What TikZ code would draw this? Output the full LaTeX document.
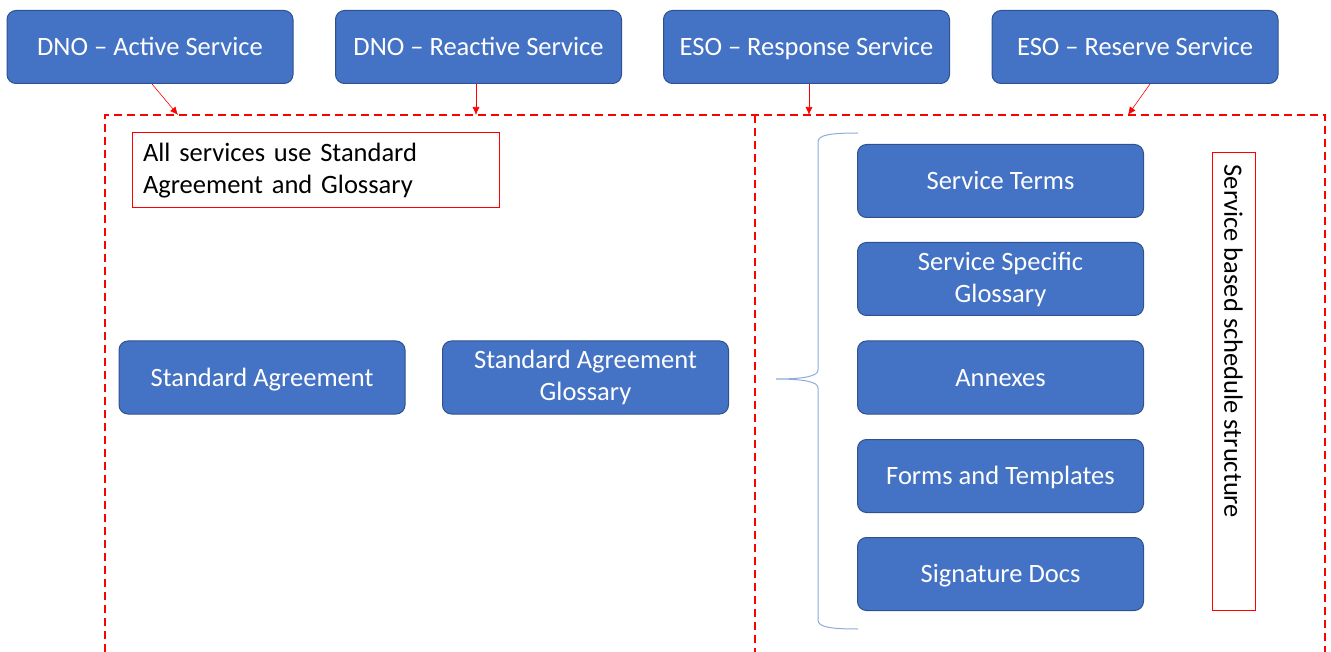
\documentclass[tikz,border=0pt]{standalone}
\usepackage{fontspec}
\setmainfont{Carlito}
\usetikzlibrary{arrows.meta,decorations.pathreplacing}
\definecolor{boxblue}{HTML}{4472C4}
\definecolor{boxedge}{HTML}{2F528F}
\definecolor{bracecol}{HTML}{8FAADC}
\tikzset{
  bluebox/.style={draw=boxedge, line width=1pt, fill=boxblue, rounded corners=9pt, text=white,
    minimum width=286pt, minimum height=73pt, inner sep=2pt, align=center,
    font=\fontsize{26.5}{32}\selectfont},
  oneline/.style={bluebox, text height=17pt, text depth=0pt},
  redbox/.style={draw=red, line width=1pt, inner sep=0pt},
  dashline/.style={draw=red, line width=2pt, dash pattern=on 8pt off 5pt},
  redarrow/.style={draw=red, line width=0.6pt, -{Latex[length=8pt,width=7pt]}}
}
\begin{document}
\begin{tikzpicture}[x=1pt,y=-1pt]
\useasboundingbox (0,0) rectangle (1331,652);
% top service boxes
\node[oneline] (dnoa) at (150,47) {DNO -- Active Service};
\node[oneline] (dnor) at (478.5,47) {DNO -- Reactive Service};
\node[oneline] (esor) at (806.5,47) {ESO -- Response Service};
\node[oneline] (esov) at (1135,47) {ESO -- Reserve Service};
% dashed frame
\coordinate (tl) at (105,115);
\coordinate (tm) at (755,115);
\coordinate (tr) at (1325,115);
\coordinate (bl) at (105,652);
\coordinate (bm) at (755,652);
\coordinate (br) at (1325,652);
\draw[dashline] (bl) -- (tl) -- (tr) -- (br);
\draw[dashline] (tm) -- (bm);
% arrows
\coordinate (a1) at (178,115);
\coordinate (a2) at (476,115);
\coordinate (a3) at (809,115);
\coordinate (a4) at (1128,115);
\draw[redarrow] (152,84) -- (a1);
\draw[redarrow] (476,84) -- (a2);
\draw[redarrow] (809,84) -- (a3);
\draw[redarrow] (1150,84) -- (a4);
% note box
\node[redbox, minimum width=367pt, minimum height=75pt, text width=345pt, align=left,
  font=\fontsize{26.5}{32}\selectfont] (note) at (315.5,170.5) {All services use Standard\\Agreement and Glossary};
% standard agreement
\node[oneline] (sa) at (262,377.5) {Standard Agreement};
\node[bluebox] (sag) at (585.5,377.5) {Standard Agreement\\Glossary};
% schedule items
\node[oneline] (st) at (1000.5,181) {Service Terms};
\node[bluebox] (ssg) at (1000.5,279) {Service Specific\\Glossary};
\node[oneline] (ann) at (1000.5,377.5) {Annexes};
\node[oneline] (fat) at (1000.5,476) {Forms and Templates};
\node[oneline] (sig) at (1000.5,574) {Signature Docs};
% brace
\coordinate (btop) at (858,133);
\coordinate (bbot) at (858,629);
\coordinate (btip) at (776,379);
\draw[bracecol, line width=1pt]
  (btop) .. controls (830,133) and (818,135) .. (818,142)
  -- (818,370) .. controls (818,376) and (805,379) .. (btip)
  .. controls (805,379) and (818,382) .. (818,388)
  -- (818,620) .. controls (818,627) and (830,629) .. (bbot);
% vertical label
\node[redbox, minimum width=43pt, minimum height=457pt] (vbox) at (1233.5,381.5) {};
\node[rotate=-90, anchor=west, inner sep=0pt, font=\fontsize{26.5}{32}\selectfont] (vtext) at ([yshift=-12pt]vbox.north) {Service based schedule structure};
\end{tikzpicture}
\end{document}
